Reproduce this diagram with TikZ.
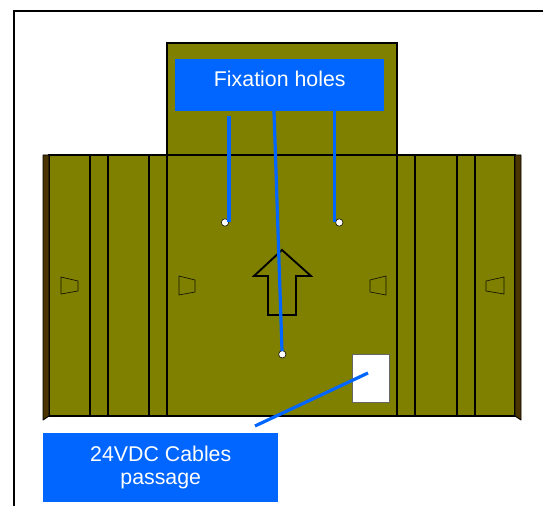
\documentclass[tikz,border=0pt]{standalone}
\usepackage{fontspec}
\setmainfont{Liberation Sans}
\definecolor{olivebody}{HTML}{808000}
\definecolor{flapbrown}{HTML}{4A3500}
\definecolor{callout}{HTML}{0066FF}
\tikzset{
  px/.style={x=0.75pt,y=-0.75pt},
  outline/.style={draw=black,line width=1.5pt,line join=miter},
  panel/.style={fill=olivebody,draw=black,line width=1.3pt},
  fold/.style={draw=black,line width=1.2pt},
  flap/.style={fill=flapbrown,draw=black,line width=0.7pt,line join=round},
  clip mark/.style={draw=black!85!olivebody,line width=0.5pt,fill=none},
  labelbox/.style={fill=callout,text=white,inner sep=0pt,font=\fontsize{16}{17}\selectfont,align=center,anchor=north west},
  leader/.style={draw=callout,line width=2.4pt},
  hole/.style={circle,fill=white,draw=black,line width=0.4pt,minimum size=5.5pt,inner sep=0pt},
}
\begin{document}
\begin{tikzpicture}[px]
\useasboundingbox (0,0) rectangle (543,506);
\fill[white] (0,0) rectangle (543,506);
% outer frame, open at right and bottom
\draw[outline] (14,506) -- (14,11) -- (543,11);
% top tab and main body
\path[panel] (167,43) rectangle (397,155);
\path[panel] (49,155) rectangle (515,416);
% side flaps
\path[flap] (43,155) -- (49,155) -- (49,416) -- (43,420) -- cycle;
\path[flap] (515,155) -- (521,155) -- (521,420) -- (515,416) -- cycle;
% fold lines
\foreach \x in {90,108,149,167,397,415,457,475}
  \draw[fold] (\x,155) -- (\x,416);
% small clip marks
\draw[clip mark] (61,277) -- (78,281) -- (78,291) -- (61,294) -- cycle;
\draw[clip mark] (179,276) -- (195,280) -- (195,292) -- (179,295) -- cycle;
\draw[clip mark] (370,280) -- (386,276) -- (386,295) -- (370,292) -- cycle;
\draw[clip mark] (486,281) -- (504,277) -- (504,294) -- (486,291) -- cycle;
% direction arrow
\draw[draw=black,line width=1.4pt,line join=miter] (282,250) -- (311,276) -- (296,276) -- (296,315) -- (268,315) -- (268,276) -- (254,276) -- cycle;
% cable passage
\node[fill=white,draw=black!60,line width=0.6pt,inner sep=0pt,minimum width=37pt*0.75,minimum height=48pt*0.75] (passage) at (370.5,378.3) {};
% labels
\node[labelbox,minimum width=209*0.75pt,minimum height=52*0.75pt] (fix) at (175,59) {\raisebox{9.5pt}{Fixation holes}};
\node[labelbox,minimum width=235*0.75pt,minimum height=69*0.75pt] (cables) at (43,433) {24VDC Cables\\[0pt]passage};
% holes
\node[hole] (h1) at (225,222.5) {};
\node[hole] (h2) at (339.3,222.5) {};
\node[hole] (h3) at (282.3,354.3) {};
% leaders
\coordinate (l1) at (229,116);
\coordinate (l1e) at (229,222);
\coordinate (l2) at (274,111);
\coordinate (l2e) at (282,351);
\coordinate (l3) at (334.7,111);
\coordinate (l3e) at (334.7,222);
\coordinate (l4) at (255,426);
\coordinate (l4e) at (368,373);
\draw[leader] (l1) -- (l1e);
\draw[leader] (l2) -- (l2e);
\draw[leader] (l3) -- (l3e);
\draw[leader] (l4) -- (l4e);
\end{tikzpicture}
\end{document}
